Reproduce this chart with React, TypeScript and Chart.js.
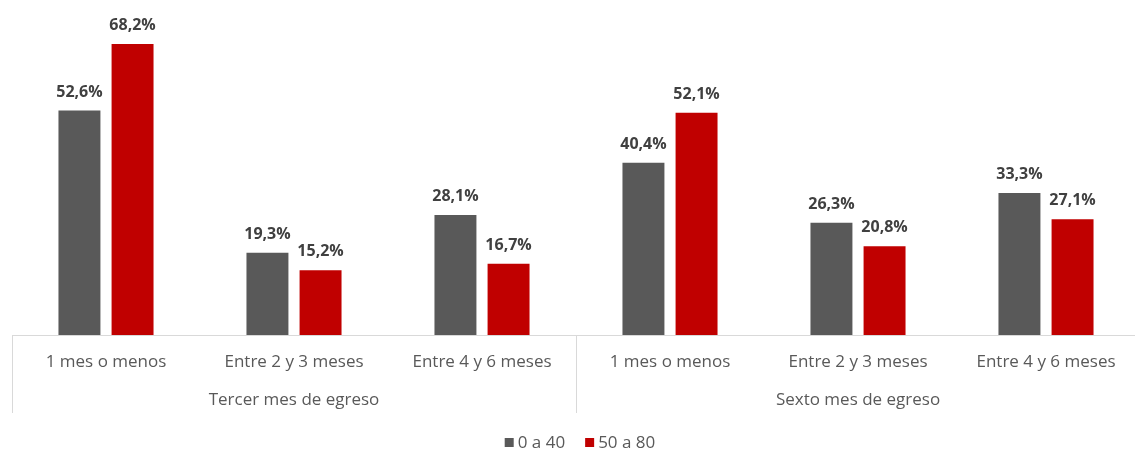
import React, { useEffect, useRef } from "react";
import { Chart, registerables } from "chart.js";

Chart.register(...registerables);

const categories = [
  "1 mes o menos",
  "Entre 2 y 3 meses",
  "Entre 4 y 6 meses",
  "1 mes o menos",
  "Entre 2 y 3 meses",
  "Entre 4 y 6 meses",
];
const groups = ["Tercer mes de egreso", "Sexto mes de egreso"];
const series1Name = "0 a 40";
const series2Name = "50 a 80";
const series1 = [52.6, 19.3, 28.1, 40.4, 26.3, 33.3];
const series2 = [68.2, 15.2, 16.7, 52.1, 20.8, 27.1];

const GRAY = "#595959";
const RED = "#C00000";
const FONT = "'Open Sans', sans-serif";

const fmt = (v: number) => v.toFixed(1).replace(".", ",") + "%";

const overlay = {
  id: "overlay",
  afterDatasetsDraw(chart: any) {
    const ctx = chart.ctx;
    const area = chart.chartArea;
    ctx.save();
    // data labels
    ctx.font = `bold 16px ${FONT}`;
    ctx.fillStyle = "#404040";
    ctx.textAlign = "center";
    ctx.textBaseline = "alphabetic";
    chart.data.datasets.forEach((ds: any, i: number) => {
      const meta = chart.getDatasetMeta(i);
      meta.data.forEach((bar: any, j: number) => {
        ctx.fillText(fmt(ds.data[j]), bar.x, bar.y - 14);
      });
    });
    // axis line
    ctx.strokeStyle = "#D9D9D9";
    ctx.lineWidth = 1;
    ctx.beginPath();
    ctx.moveTo(area.left, area.bottom + 0.5);
    ctx.lineTo(area.right, area.bottom + 0.5);
    // separators
    const n = categories.length;
    const w = (area.right - area.left) / n;
    [0, 3, 6].forEach((k) => {
      const x = Math.round(area.left + k * w) + 0.5;
      ctx.moveTo(x, area.bottom);
      ctx.lineTo(x, area.bottom + 78);
    });
    ctx.stroke();
    // group labels
    ctx.font = `17px ${FONT}`;
    ctx.fillStyle = GRAY;
    ctx.textBaseline = "middle";
    groups.forEach((g, k) => {
      const cx = area.left + (k * 3 + 1.5) * w;
      ctx.fillText(g, cx, area.bottom + 65);
    });
    // legend
    const ly = 443;
    ctx.textAlign = "left";
    ctx.font = `17px ${FONT}`;
    const items = [
      { name: series1Name, color: GRAY },
      { name: series2Name, color: RED },
    ];
    const widths = items.map((it) => 9 + 4 + ctx.measureText(it.name).width);
    const gap = 20;
    const total = widths[0] + widths[1] + gap;
    let x = 580 - total / 2;
    items.forEach((it, k) => {
      ctx.fillStyle = it.color;
      ctx.fillRect(x, ly - 5, 9, 9);
      ctx.fillStyle = GRAY;
      ctx.fillText(it.name, x + 13, ly);
      x += widths[k] + gap;
    });
    ctx.restore();
  },
};

export default function App() {
  const ref = useRef<HTMLCanvasElement | null>(null);
  useEffect(() => {
    document.body.style.margin = "0";
    const chart = new Chart(ref.current as HTMLCanvasElement, {
      type: "bar",
      data: {
        labels: categories,
        datasets: [
          { label: series1Name, data: series1, backgroundColor: GRAY },
          { label: series2Name, data: series2, backgroundColor: RED },
        ],
      },
      options: {
        responsive: false,
        animation: false,
        layout: { padding: { left: 12, top: 15, right: 0, bottom: 0 } },
        datasets: {
          bar: { categoryPercentage: 0.565, barPercentage: 0.79 },
        },
        plugins: { legend: { display: false }, tooltip: { enabled: false } },
        scales: {
          x: {
            grid: { display: false, drawTicks: false },
            border: { display: false },
            ticks: {
              color: GRAY,
              font: { family: "'Open Sans', sans-serif", size: 17 },
              padding: 17,
              maxRotation: 0,
              autoSkip: false,
            },
            afterFit: (s: any) => {
              s.height = 118;
            },
          },
          y: {
            display: false,
            min: 0,
            max: 75,
          },
        },
      },
      plugins: [overlay],
    });
    return () => chart.destroy();
  }, []);
  return (
    <div style={{ width: 1135, height: 453, overflow: "hidden", background: "#fff" }}>
      <canvas ref={ref} width={1140} height={453} />
    </div>
  );
}
